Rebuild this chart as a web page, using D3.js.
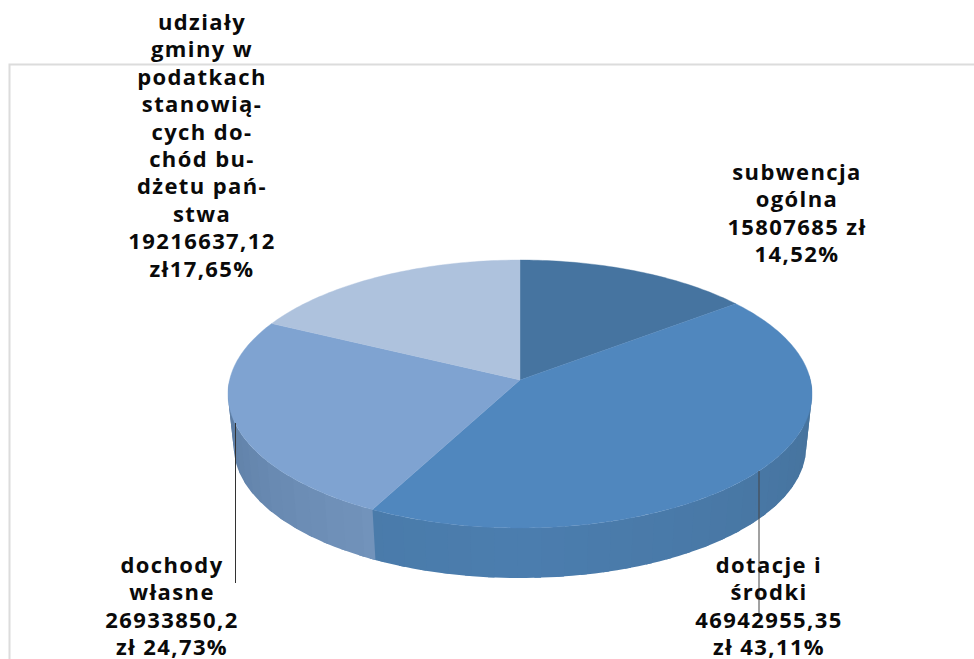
<!DOCTYPE html>
<html>
<head>
<meta charset="utf-8">
<script src="https://cdnjs.cloudflare.com/ajax/libs/d3/7.8.5/d3.min.js"></script>
<style>
  html, body { margin: 0; padding: 0; background: #fff; overflow: hidden; }
  text { font-family: "Open Sans", sans-serif; font-weight: 700; fill: #0a0a0a; }
</style>
</head>
<body>
<div id="chart"></div>
<script>
// data
var categories = ['subwencja ogólna', 'dotacje i środki', 'dochody własne', 'udziały gminy'];
var values = [15807685, 46942955.35, 26933850.2, 19216637.12];
var topColors = ['#4674a0', '#5087be', '#7fa3d1', '#aec2dd'];
var labelLines = [
  ['subwencja', 'ogólna', '15807685 zł', '14,52%'],
  ['dotacje i', 'środki', '46942955,35', 'zł 43,11%'],
  ['dochody', 'własne', '26933850,2', 'zł 24,73%'],
  ['udziały', 'gminy w', 'podatkach', 'stanowią-', 'cych do-', 'chód bu-', 'dżetu pań-', 'stwa', '19216637,12', 'zł17,65%']
];

// label anchors, in same order as categories
var labelX = [797, 769, 172, 202];
var labelY = [180, 573, 573, 30];
var lineH = 27.4;

var width = 974, height = 659;

var svg = d3.select('#chart').append('svg')
  .attr('width', width)
  .attr('height', height)
  .style('display', 'block');

// plot area border (only top and left show up)
svg.append('path')
  .attr('d', 'M9.5,' + height + 'V64.5H' + width)
  .attr('fill', 'none')
  .attr('stroke', '#dcdcdc')
  .attr('stroke-width', 2);

// the pie lies in perspective, so a circle is projected rather than squashed
var cx = 520, cy = 380, persp = 0.1045;
function project(a, scale, y0) {
  var u = Math.sin(a), v = Math.cos(a), d = 1 + persp * v;
  return [cx + 290.4 * scale * u / d, y0 - 132.5 * scale * v / d];
}

var pie = d3.pie().sort(null).startAngle(0).endAngle(2 * Math.PI);
var slices = pie(values);
var line = d3.line();
var deg = Math.PI / 180;
var seam = slices[1].endAngle;

// side colours running along the rim, by angle
var sideColor = d3.scaleLinear()
  .domain([90 * deg, 130 * deg, 180 * deg, seam, seam + 0.001, 235 * deg, 270 * deg])
  .range(['#46729b', '#4877a4', '#4b7dae', '#4a7baa', '#7293bb', '#6889b1', '#5c7ca3'])
  .interpolate(d3.interpolateRgb);

// rim: strips overlap the next one so no seams show between them
var stripEdges = d3.range(88, 272.01, 4.2).map(function(d) { return d * deg; });
stripEdges.push(seam);
stripEdges.sort(d3.ascending);
function drawStrip(p) {
  var end = p[1] + 1.2 * deg;
  var pts = [];
  d3.range(0, 5).forEach(function(i) {
    pts.push(project(p[0] + (end - p[0]) * i / 4, 1, cy));
  });
  d3.range(4, -1, -1).forEach(function(i) {
    pts.push(project(p[0] + (end - p[0]) * i / 4, 0.98, 433));
  });
  svg.append('path')
    .attr('d', line(pts) + 'Z')
    .attr('fill', sideColor((p[0] + p[1]) / 2));
}
// right half goes from the edge in to the seam, then the rest on top of it
d3.pairs(stripEdges).forEach(drawStrip);

// top face
slices.forEach(function(s, i) {
  var pts = [[cx, cy]];
  var n = Math.ceil((s.endAngle - s.startAngle) / deg);
  d3.range(0, n + 1).forEach(function(k) {
    pts.push(project(s.startAngle + (s.endAngle - s.startAngle) * k / n, 1, cy));
  });
  svg.append('path')
    .attr('d', line(pts) + 'Z')
    .attr('fill', topColors[i])
    .attr('stroke', topColors[i])
    .attr('stroke-width', 0.4);
});

// leader lines
svg.append('line')
  .attr('x1', 235.5).attr('x2', 235.5).attr('y1', 423).attr('y2', 583)
  .attr('stroke', '#333').attr('stroke-width', 1);
svg.append('line')
  .attr('x1', 759).attr('x2', 759).attr('y1', 471).attr('y2', 615)
  .attr('stroke', '#444').attr('stroke-width', 1);

// data labels
labelLines.forEach(function(lines, i) {
  svg.append('text')
    .attr('text-anchor', 'middle')
    .style('font-size', '22px')
    .style('letter-spacing', '1.4px')
    .selectAll('tspan')
    .data(lines)
    .enter().append('tspan')
    .attr('x', labelX[i])
    .attr('y', function(d, k) { return labelY[i] + k * lineH; })
    .text(function(d) { return d; });
});
</script>
</body>
</html>
